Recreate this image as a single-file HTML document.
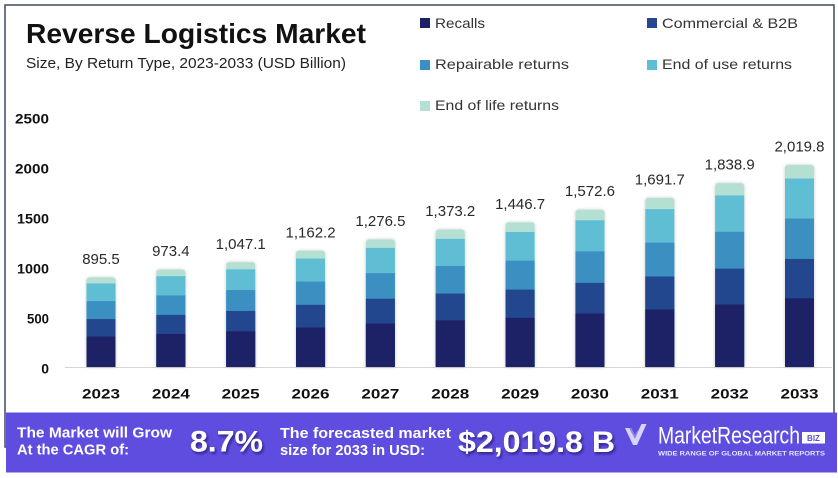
<!DOCTYPE html>
<html>
<head>
<meta charset="utf-8">
<style>
  html,body{margin:0;padding:0;background:#fff;}
  svg{display:block;}
  text{font-family:"Liberation Sans", sans-serif;}
</style>
</head>
<body>
<svg width="838" height="478" viewBox="0 0 838 478" xmlns="http://www.w3.org/2000/svg">
  <defs>
    <filter id="bs" x="-30%" y="-10%" width="160%" height="120%">
      <feDropShadow dx="0" dy="0" stdDeviation="1.6" flood-color="#000" flood-opacity="0.22"/>
    </filter>
    <filter id="ts" x="-10%" y="-20%" width="130%" height="160%">
      <feDropShadow dx="1.5" dy="2" stdDeviation="1.2" flood-color="#1a1060" flood-opacity="0.7"/>
    </filter>
  </defs>

  <rect x="0" y="0" width="838" height="478" fill="#fff"/>
  <!-- card border -->
  <rect x="5" y="5" width="829" height="442" fill="#fff" stroke="#3d4b5c" stroke-width="1.5"/>

  <!-- title -->
  <text x="26" y="43" font-size="28" font-weight="bold" fill="#111" textLength="340" lengthAdjust="spacingAndGlyphs">Reverse Logistics Market</text>
  <text x="26" y="68" font-size="15" fill="#222" textLength="320" lengthAdjust="spacingAndGlyphs">Size, By Return Type, 2023-2033 (USD Billion)</text>

  <!-- legend -->
  <g font-size="14" fill="#333">
    <rect x="420" y="18" width="10" height="10" fill="#1a2265"/>
    <text x="435" y="28" textLength="50" lengthAdjust="spacingAndGlyphs">Recalls</text>
    <rect x="647" y="18" width="10" height="10" fill="#24478f"/>
    <text x="662" y="28" textLength="136" lengthAdjust="spacingAndGlyphs">Commercial &amp; B2B</text>
    <rect x="420" y="60" width="10" height="10" fill="#3b8fc1"/>
    <text x="435" y="69" textLength="134" lengthAdjust="spacingAndGlyphs">Repairable returns</text>
    <rect x="647" y="60" width="10" height="10" fill="#5fbdd4"/>
    <text x="662" y="69" textLength="130" lengthAdjust="spacingAndGlyphs">End of use returns</text>
    <rect x="420" y="101" width="10" height="10" fill="#b3e0d3"/>
    <text x="435" y="110" textLength="124" lengthAdjust="spacingAndGlyphs">End of life returns</text>
  </g>

  <!-- y axis labels -->
  <g font-size="14" font-weight="bold" fill="#111" text-anchor="end">
    <text x="49" y="123.5" textLength="34" lengthAdjust="spacingAndGlyphs">2500</text>
    <text x="49" y="173.5" textLength="34" lengthAdjust="spacingAndGlyphs">2000</text>
    <text x="49" y="223.5" textLength="32" lengthAdjust="spacingAndGlyphs">1500</text>
    <text x="49" y="273.5" textLength="32" lengthAdjust="spacingAndGlyphs">1000</text>
    <text x="49" y="323.5" textLength="22" lengthAdjust="spacingAndGlyphs">500</text>
    <text x="49" y="373.5">0</text>
  </g>

  <!-- axis line -->
  <line x1="65" y1="367.5" x2="832" y2="367.5" stroke="#d6d6d6" stroke-width="1"/>

  <!-- bars -->
  <g>
    <!-- 2023 -->
    <g filter="url(#bs)">
      <rect x="86.5" y="277.45" width="29" height="89.55" rx="3" fill="#b3e0d3"/>
      <rect x="86.5" y="283.45" width="29" height="83.55" fill="#5fbdd4"/>
      <rect x="86.5" y="301.18" width="29" height="65.82" fill="#3b8fc1"/>
      <rect x="86.5" y="319.09" width="29" height="47.91" fill="#24478f"/>
      <rect x="86.5" y="336.55" width="29" height="30.45" fill="#1a2265"/>
    </g>
    <!-- 2024 -->
    <g filter="url(#bs)">
      <rect x="156.35" y="269.66" width="29" height="97.34" rx="3" fill="#b3e0d3"/>
      <rect x="156.35" y="276.18" width="29" height="90.82" fill="#5fbdd4"/>
      <rect x="156.35" y="295.46" width="29" height="71.54" fill="#3b8fc1"/>
      <rect x="156.35" y="314.92" width="29" height="52.08" fill="#24478f"/>
      <rect x="156.35" y="333.90" width="29" height="33.10" fill="#1a2265"/>
    </g>
    <!-- 2025 -->
    <g filter="url(#bs)">
      <rect x="226.2" y="262.29" width="29" height="104.71" rx="3" fill="#b3e0d3"/>
      <rect x="226.2" y="269.31" width="29" height="97.69" fill="#5fbdd4"/>
      <rect x="226.2" y="290.04" width="29" height="76.96" fill="#3b8fc1"/>
      <rect x="226.2" y="310.98" width="29" height="56.02" fill="#24478f"/>
      <rect x="226.2" y="331.40" width="29" height="35.60" fill="#1a2265"/>
    </g>
    <!-- 2026 -->
    <g filter="url(#bs)">
      <rect x="296.05" y="250.78" width="29" height="116.22" rx="3" fill="#b3e0d3"/>
      <rect x="296.05" y="258.57" width="29" height="108.43" fill="#5fbdd4"/>
      <rect x="296.05" y="281.58" width="29" height="85.42" fill="#3b8fc1"/>
      <rect x="296.05" y="304.82" width="29" height="62.18" fill="#24478f"/>
      <rect x="296.05" y="327.49" width="29" height="39.51" fill="#1a2265"/>
    </g>
    <!-- 2027 -->
    <g filter="url(#bs)">
      <rect x="365.9" y="239.35" width="29" height="127.65" rx="3" fill="#b3e0d3"/>
      <rect x="365.9" y="247.90" width="29" height="119.10" fill="#5fbdd4"/>
      <rect x="365.9" y="273.18" width="29" height="93.82" fill="#3b8fc1"/>
      <rect x="365.9" y="298.71" width="29" height="68.29" fill="#24478f"/>
      <rect x="365.9" y="323.60" width="29" height="43.40" fill="#1a2265"/>
    </g>
    <!-- 2028 -->
    <g filter="url(#bs)">
      <rect x="435.75" y="229.68" width="29" height="137.32" rx="3" fill="#b3e0d3"/>
      <rect x="435.75" y="238.88" width="29" height="128.12" fill="#5fbdd4"/>
      <rect x="435.75" y="266.07" width="29" height="100.93" fill="#3b8fc1"/>
      <rect x="435.75" y="293.53" width="29" height="73.47" fill="#24478f"/>
      <rect x="435.75" y="320.31" width="29" height="46.69" fill="#1a2265"/>
    </g>
    <!-- 2029 -->
    <g filter="url(#bs)">
      <rect x="505.6" y="222.33" width="29" height="144.67" rx="3" fill="#b3e0d3"/>
      <rect x="505.6" y="232.02" width="29" height="134.98" fill="#5fbdd4"/>
      <rect x="505.6" y="260.67" width="29" height="106.33" fill="#3b8fc1"/>
      <rect x="505.6" y="289.60" width="29" height="77.40" fill="#24478f"/>
      <rect x="505.6" y="317.81" width="29" height="49.19" fill="#1a2265"/>
    </g>
    <!-- 2030 -->
    <g filter="url(#bs)">
      <rect x="575.45" y="209.74" width="29" height="157.26" rx="3" fill="#b3e0d3"/>
      <rect x="575.45" y="220.28" width="29" height="146.72" fill="#5fbdd4"/>
      <rect x="575.45" y="251.41" width="29" height="115.59" fill="#3b8fc1"/>
      <rect x="575.45" y="282.87" width="29" height="84.13" fill="#24478f"/>
      <rect x="575.45" y="313.53" width="29" height="53.47" fill="#1a2265"/>
    </g>
    <!-- 2031 -->
    <g filter="url(#bs)">
      <rect x="645.3" y="197.83" width="29" height="169.17" rx="3" fill="#b3e0d3"/>
      <rect x="645.3" y="209.16" width="29" height="157.84" fill="#5fbdd4"/>
      <rect x="645.3" y="242.66" width="29" height="124.34" fill="#3b8fc1"/>
      <rect x="645.3" y="276.49" width="29" height="90.51" fill="#24478f"/>
      <rect x="645.3" y="309.48" width="29" height="57.52" fill="#1a2265"/>
    </g>
    <!-- 2032 -->
    <g filter="url(#bs)">
      <rect x="715.15" y="183.11" width="29" height="183.89" rx="3" fill="#b3e0d3"/>
      <rect x="715.15" y="195.43" width="29" height="171.57" fill="#5fbdd4"/>
      <rect x="715.15" y="231.84" width="29" height="135.16" fill="#3b8fc1"/>
      <rect x="715.15" y="268.62" width="29" height="98.38" fill="#24478f"/>
      <rect x="715.15" y="304.48" width="29" height="62.52" fill="#1a2265"/>
    </g>
    <!-- 2033 -->
    <g filter="url(#bs)">
      <rect x="785" y="165.02" width="29" height="201.98" rx="3" fill="#b3e0d3"/>
      <rect x="785" y="178.55" width="29" height="188.45" fill="#5fbdd4"/>
      <rect x="785" y="218.54" width="29" height="148.46" fill="#3b8fc1"/>
      <rect x="785" y="258.94" width="29" height="108.06" fill="#24478f"/>
      <rect x="785" y="298.33" width="29" height="68.67" fill="#1a2265"/>
    </g>
  </g>

  <!-- value labels -->
  <g font-size="15" fill="#2a2a2a" text-anchor="middle">
    <text x="101" y="264">895.5</text>
    <text x="170.85" y="256.2">973.4</text>
    <text x="240.7" y="248.8">1,047.1</text>
    <text x="310.55" y="237.3">1,162.2</text>
    <text x="380.4" y="225.9">1,276.5</text>
    <text x="450.25" y="216.2">1,373.2</text>
    <text x="520.1" y="208.8">1,446.7</text>
    <text x="589.95" y="196.2">1,572.6</text>
    <text x="659.8" y="184.3">1,691.7</text>
    <text x="729.65" y="169.6">1,838.9</text>
    <text x="799.5" y="151.5">2,019.8</text>
  </g>

  <!-- year labels -->
  <g font-size="14" font-weight="bold" fill="#111" text-anchor="middle">
    <text x="101" y="398.5" textLength="38" lengthAdjust="spacingAndGlyphs">2023</text>
    <text x="170.85" y="398.5" textLength="38" lengthAdjust="spacingAndGlyphs">2024</text>
    <text x="240.7" y="398.5" textLength="38" lengthAdjust="spacingAndGlyphs">2025</text>
    <text x="310.55" y="398.5" textLength="38" lengthAdjust="spacingAndGlyphs">2026</text>
    <text x="380.4" y="398.5" textLength="38" lengthAdjust="spacingAndGlyphs">2027</text>
    <text x="450.25" y="398.5" textLength="38" lengthAdjust="spacingAndGlyphs">2028</text>
    <text x="520.1" y="398.5" textLength="38" lengthAdjust="spacingAndGlyphs">2029</text>
    <text x="589.95" y="398.5" textLength="38" lengthAdjust="spacingAndGlyphs">2030</text>
    <text x="659.8" y="398.5" textLength="38" lengthAdjust="spacingAndGlyphs">2031</text>
    <text x="729.65" y="398.5" textLength="38" lengthAdjust="spacingAndGlyphs">2032</text>
    <text x="799.5" y="398.5" textLength="38" lengthAdjust="spacingAndGlyphs">2033</text>
  </g>

  <!-- banner -->
  <rect x="6" y="412.5" width="831" height="60" fill="#5e4ddf"/>
  <g fill="#fff" font-weight="bold">
    <text x="17" y="437.5" font-size="15" textLength="155" lengthAdjust="spacingAndGlyphs">The Market will Grow</text>
    <text x="17" y="454.5" font-size="15" textLength="112" lengthAdjust="spacingAndGlyphs">At the CAGR of:</text>
    <text x="190" y="451.5" font-size="30" textLength="73" lengthAdjust="spacingAndGlyphs" filter="url(#ts)">8.7%</text>
    <text x="280" y="438" font-size="15" textLength="171" lengthAdjust="spacingAndGlyphs">The forecasted market</text>
    <text x="280" y="455" font-size="15" textLength="145" lengthAdjust="spacingAndGlyphs">size for 2033 in USD:</text>
    <text x="458" y="452" font-size="30" textLength="157" lengthAdjust="spacingAndGlyphs" filter="url(#ts)">$2,019.8 B</text>
  </g>

  <!-- logo -->
  <g>
    <polygon points="625,428 630.5,428 635,437.5 641.5,424 646.5,424 637,445 633,445" fill="#e6e2ff" opacity="0.9"/>
    <polygon points="629,428 631.5,428 635,435 637,431 638.5,431 635,439" fill="#8f83ea"/>
    <text x="658" y="443.5" font-size="24" fill="#fff" textLength="142" lengthAdjust="spacingAndGlyphs">MarketResearch</text>
    <rect x="802" y="432" width="23" height="11.5" fill="#fff"/>
    <text x="813.5" y="441" font-size="8" font-weight="bold" fill="#5e4ddf" text-anchor="middle">BIZ</text>
    <text x="658" y="455.5" font-size="6" font-weight="bold" fill="#e8e5ff" textLength="167" lengthAdjust="spacingAndGlyphs">WIDE RANGE OF GLOBAL MARKET REPORTS</text>
  </g>
</svg>
</body>
</html>
